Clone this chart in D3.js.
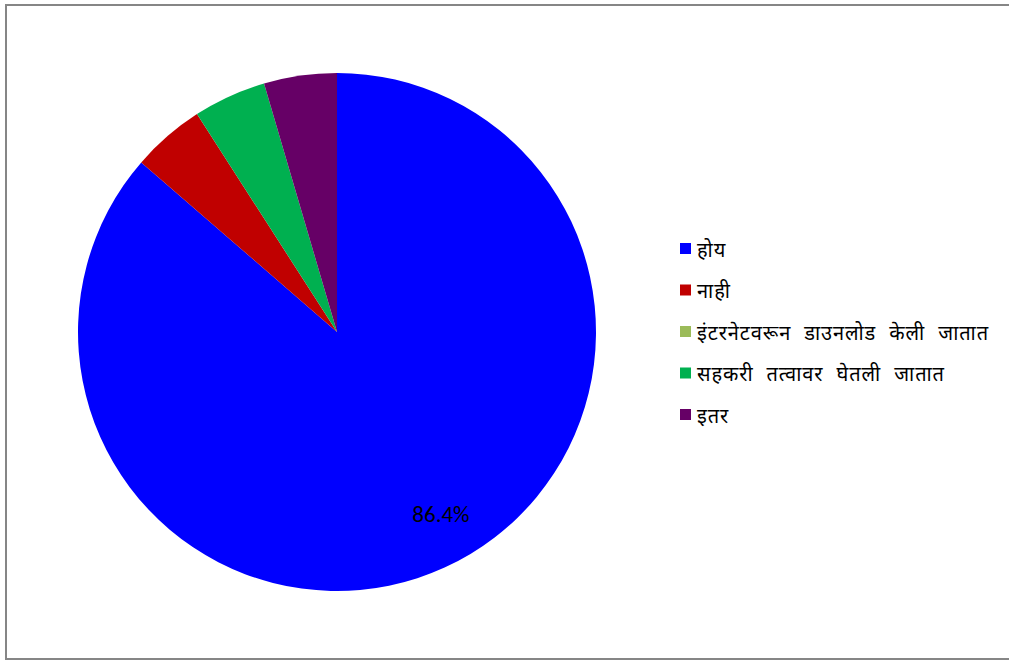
<!DOCTYPE html>
<html><head><meta charset="utf-8">
<script src="https://cdn.jsdelivr.net/npm/d3@7"></script>
<style>html,body{margin:0;padding:0;background:#fff;overflow:hidden}</style>
</head><body>
<svg id="c" width="1009" height="661"></svg>
<script>
const categories = ["होय", "नाही", "इंटरनेटवरून डाउनलोड केली जातात", "सहकरी तत्वावर घेतली जातात", "इतर"];
const values = [19, 1, 0, 1, 1];
const colors = ["#0000FF", "#C00000", "#9BBB59", "#00B050", "#660066"];
const shownLabels = [true, false, false, false, false];

const svg = d3.select("#c");
svg.append("rect").attr("x", 6).attr("y", 5).attr("width", 1010).attr("height", 654)
  .attr("fill", "#fff").attr("stroke", "#868686").attr("stroke-width", 2);

const cx = 337, cy = 332, R = 259;
const total = d3.sum(values);
const pie = d3.pie().sort(null).value(d => d)(values);
const arc = d3.arc().innerRadius(0).outerRadius(R);
const g = svg.append("g").attr("transform", `translate(${cx},${cy})`);
g.selectAll("path").data(pie).join("path")
  .attr("d", arc).attr("fill", (d, i) => colors[i]);

const labelArc = d3.arc().innerRadius(R * 0.81).outerRadius(R * 0.81);
const fmt = v => (v / total * 100).toFixed(1) + "%";
g.selectAll("text.lbl").data(pie.filter((d, i) => shownLabels[i])).join("text")
  .attr("class", "lbl")
  .attr("transform", d => { const c = labelArc.centroid({startAngle: d.startAngle, endAngle: d.endAngle - 0.18}); return `translate(${c[0]},${c[1]})`; })
  .attr("text-anchor", "middle").attr("dominant-baseline", "central")
  .attr("font-family", "Carlito, Lato, 'Open Sans', sans-serif").attr("font-size", 23)
  .attr("fill", "#000").text(d => fmt(d.value));

const leg = svg.append("g").attr("transform", "translate(680,249)");
const y = d3.scalePoint().domain(categories).range([0, 166]);
const items = leg.selectAll("g").data(categories).join("g")
  .attr("transform", d => `translate(0,${y(d)})`);
items.append("rect").attr("x", 0).attr("y", -6).attr("width", 11).attr("height", 11)
  .attr("fill", (d, i) => colors[i]);
items.append("text").attr("x", 17).attr("y", 0).attr("dominant-baseline", "central")
  .attr("font-family", "'Noto Sans', 'Noto Sans Devanagari', sans-serif").attr("font-size", 20)
  .attr("word-spacing", 7).attr("letter-spacing", 0.9)
  .attr("fill", "#000").text(d => d);
</script>
</body></html>
